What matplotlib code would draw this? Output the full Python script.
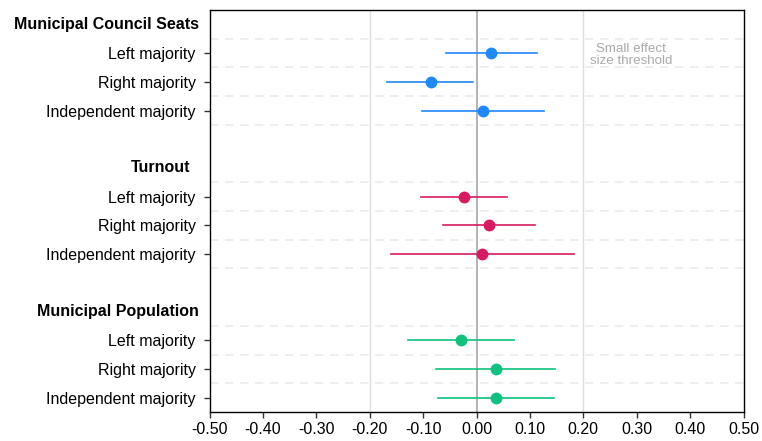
import matplotlib
matplotlib.use("Agg")
import matplotlib.pyplot as plt
import matplotlib.transforms as mtransforms
import numpy as np

plt.rcParams['font.family'] = ['Liberation Sans', 'DejaVu Sans']

groups = ["Municipal Council Seats", "Turnout", "Municipal Population"]
categories = ["Left majority", "Right majority", "Independent majority"]
colors = ["#1f88fb", "#d81b60", "#0dc27f"]

estimates = [
    [0.028, -0.086, 0.013],
    [-0.023, 0.024, 0.011],
    [-0.029, 0.036, 0.037],
]
ci_low = [
    [-0.058, -0.167, -0.102],
    [-0.103, -0.062, -0.160],
    [-0.129, -0.076, -0.072],
]
ci_high = [
    [0.114, -0.006, 0.127],
    [0.057, 0.110, 0.182],
    [0.071, 0.147, 0.146],
]
xticks = [-0.5, -0.4, -0.3, -0.2, -0.1, 0.0, 0.1, 0.2, 0.3, 0.4, 0.5]
threshold = 0.2

fig = plt.figure(figsize=(7.62, 4.41), dpi=100)
ax = fig.add_axes([209.5 / 762, 1 - 412 / 441, 534 / 762, 402 / 441])

# each group: header row, three category rows, one blank row
header_pos = []
row_pos = []
for g in range(len(groups)):
    base = g * 5
    header_pos.append(base)
    row_pos.append([base + 1 + i for i in range(len(categories))])

# light dashed separators between rows
for g in range(len(groups)):
    base = g * 5
    for k in range(4):
        y = base + 0.5 + k
        if y < 13.4:
            ax.axhline(y, color="#ebebeb", lw=1.2, ls=(0, (5, 4)), zorder=0)

ax.axvline(-threshold, color="#dcdcdc", lw=1, zorder=0)
ax.axvline(threshold, color="#dcdcdc", lw=1, zorder=0)
ax.axvline(0, color="#a6a6a6", lw=1.2, zorder=1)

for g in range(len(groups)):
    for i in range(len(categories)):
        y = row_pos[g][i]
        ax.plot([ci_low[g][i], ci_high[g][i]], [y, y], color=colors[g], lw=1.2, zorder=2)
        ax.plot(estimates[g][i], y, 'o', color=colors[g], ms=7.5, zorder=3)

ax.text(0.29, 1.05, "Small effect\nsize threshold", ha="center", va="center",
        fontsize=9.6, color="#aaaaaa", linespacing=1.0)

ax.set_xlim(-0.5, 0.5)
ax.set_ylim(13.5, -0.5)
ax.set_xticks(xticks)
ax.set_xticklabels([f"{v:.2f}" for v in xticks], fontsize=11.5)

yt = [p for rows in row_pos for p in rows]
ax.set_yticks(yt)
ax.set_yticklabels(categories * len(groups), fontsize=11.5)
ax.tick_params(axis="both", length=4, width=1, color="#333333", pad=3)
ax.tick_params(axis="y", pad=6)

header_offsets = [-10, -19, -11]
for g, name in enumerate(groups):
    tr = mtransforms.offset_copy(ax.get_yaxis_transform(), fig=fig,
                                 x=header_offsets[g], y=0, units="dots")
    ax.text(0, header_pos[g], name, transform=tr, ha="right", va="center",
            fontsize=11.5, fontweight="bold")

for s in ax.spines.values():
    s.set_color("black")
    s.set_linewidth(1)

fig.savefig("out.png", dpi=100)
